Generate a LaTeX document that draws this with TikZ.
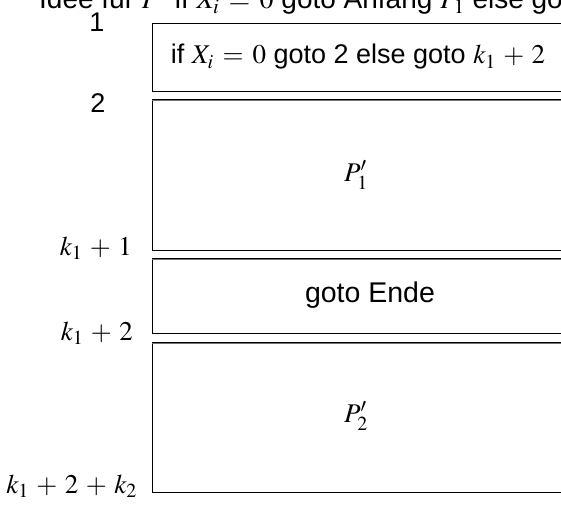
\documentclass[tikz,border=0pt]{standalone}
\usepackage{mathptmx}
\usepackage{fontspec}
\setmainfont{Liberation Sans}
\AtBeginDocument{\medmuskip=5mu plus 2mu minus 2mu\relax\thickmuskip=6mu plus 3mu\relax}
\begin{document}
\begin{tikzpicture}[x=1pt,y=-1pt,
  box/.style={draw=black, line width=1pt, minimum width=440pt, inner sep=0pt, anchor=north west},
  lab/.style={inner sep=0pt, font=\fontsize{27}{30}\selectfont},
  ttl/.style={inner sep=0pt, font=\fontsize{28}{30}\selectfont},
  topline/.style={draw=black!55, line width=1pt}]
\useasboundingbox (0,0) rectangle (561,505);
\clip (0,0) rectangle (561,505);
% title
\node[ttl, anchor=base west] (title) at (39,9) {Idee für $P$\hspace{8pt} if $X_i = 0$ goto Anfang $P_1$ else goto Anfang $P_2$};
% boxes
\node[box, minimum height=68pt] (b1) at (152,23) {};
\node[box, minimum height=151pt] (b2) at (152,99) {};
\node[box, minimum height=75pt] (b3) at (152,258) {};
\node[box, minimum height=150pt] (b4) at (152,342) {};
\draw[topline] ([yshift=-1.5pt]b2.north west) -- ([yshift=-1.5pt]b2.north east);
\draw[topline] ([yshift=-1.5pt]b3.north west) -- ([yshift=-1.5pt]b3.north east);
\draw[topline] ([yshift=-1.5pt]b4.north west) -- ([yshift=-1.5pt]b4.north east);
% texts in boxes
\node[lab] (t1) at (358,57) {if $X_i = 0$ goto 2 else goto $k_1 + 2$};
\node[lab] (t2) at (356,175) {$P'_1$};
\node[lab, font=\fontsize{28.5}{30}\selectfont] (t3) at (370,295) {goto Ende};
\node[lab] (t4) at (356,416) {$P'_2$};
% line labels
\node[lab, anchor=base] (l1) at (97,32) {1};
\node[lab, anchor=base] (l2) at (98,113) {2};
\node[lab, anchor=base east] (l3) at (132,255) {$k_1 + 1$};
\node[lab, anchor=base east] (l4) at (133,340) {$k_1 + 2$};
\node[lab, anchor=base east] (l5) at (137,493) {$k_1 + 2 + k_2$};
\end{tikzpicture}
\end{document}
